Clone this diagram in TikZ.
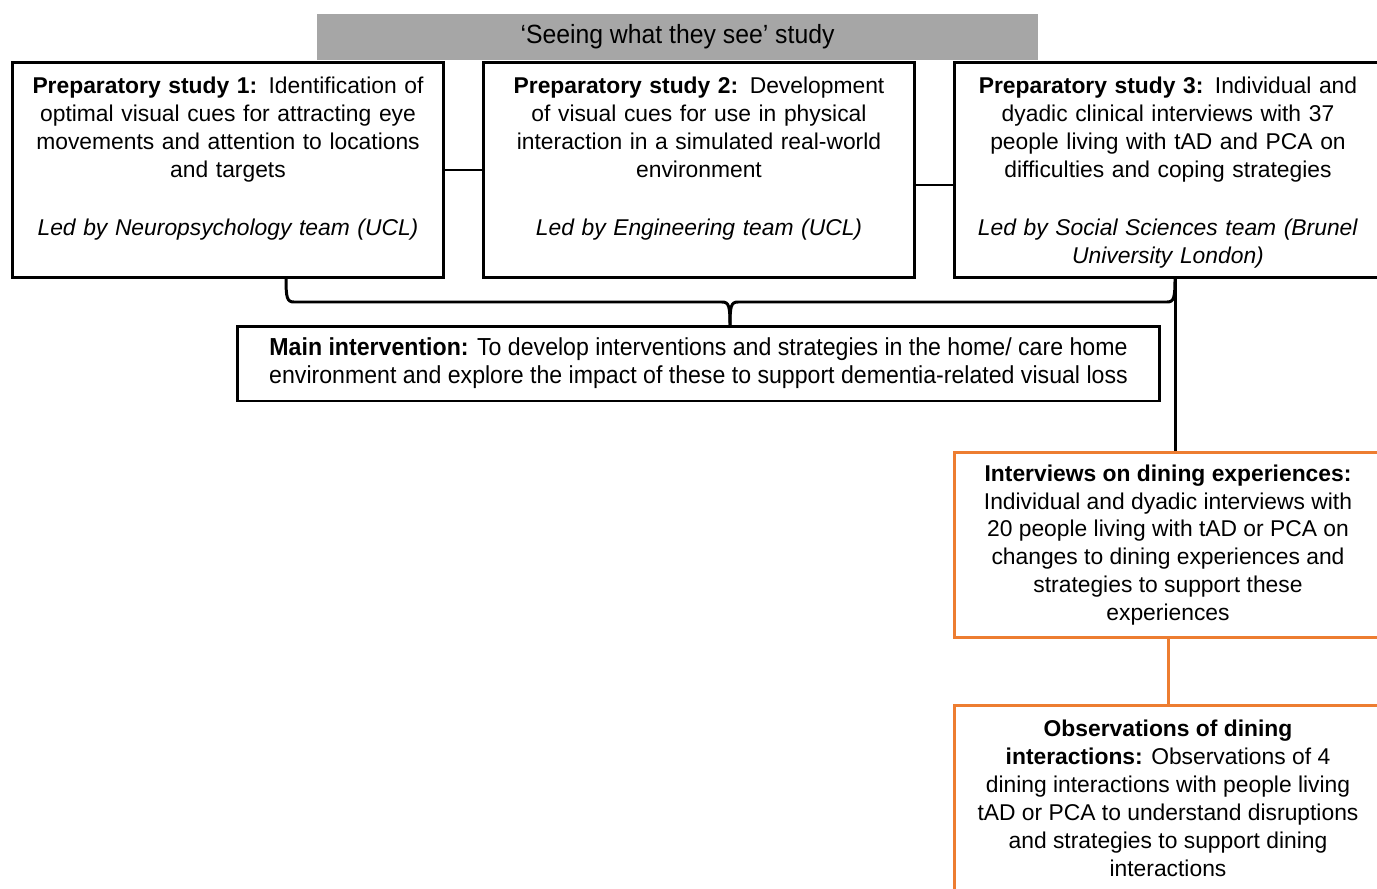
\documentclass[tikz,border=0pt]{standalone}
\usepackage{fontspec}
\setmainfont{Liberation Sans}
\newfontfamily\narrowfont[FakeStretch=0.94]{Liberation Sans}
\usetikzlibrary{positioning,calc}
\definecolor{hdrgray}{HTML}{A6A6A6}
\definecolor{dinorange}{HTML}{ED7D31}
\tikzset{
  box/.style={draw, rectangle, line width=1.7pt, inner sep=0pt, fill=white},
  obox/.style={box, draw=dinorange, align=center, font=\fontsize{13}{15.9}\selectfont},
  txt/.style={align=center, inner sep=0pt, font=\fontsize{13}{15.9}\selectfont},
  hdr/.style={fill=hdrgray, minimum width=14.42cm, minimum height=0.92cm, inner sep=0pt, font=\narrowfont\fontsize{15}{15.9}\selectfont},
  link/.style={line width=1.7pt},
  olink/.style={line width=1.7pt, draw=dinorange},
}
\begin{document}
\begin{tikzpicture}[x=0.02cm,y=-0.02cm]
\useasboundingbox (0,0) rectangle (1377,889);
\clip (0,0) rectangle (1377,889);
\newcommand{\prep}[4]{\node[box, minimum width=#3cm, minimum height=4.32cm] (#1) at #2 {}; \node[txt, text width=#3cm-0.2cm, anchor=north] (#1t) at ([yshift=-0.33cm]#1.north) {#4};}
\node[hdr] (title) at (677.5,37) {‘Seeing what they see’ study};
\prep{p1}{(228,170)}{8.64}{\textbf{Preparatory study 1:} Identification of\\optimal visual cues for attracting eye\\movements and attention to locations\\and targets\\[17pt]\textit{Led by Neuropsychology team (UCL)}}
\prep{p2}{(699,170)}{8.64}{\textbf{Preparatory study 2:} Development\\of visual cues for use in physical\\interaction in a simulated real-world\\environment\\[17pt]\textit{Led by Engineering team (UCL)}}
\prep{p3}{(1168,170)}{8.56}{\textbf{Preparatory study 3:} Individual and\\dyadic clinical interviews with 37\\people living with tAD and PCA on\\difficulties and coping strategies\\[17pt]\textit{Led by Social Sciences team (Brunel}\\\textit{University London)}}
\node[box, minimum width=18.46cm, minimum height=1.5cm, align=center, font=\narrowfont\fontsize{14}{15.9}\selectfont] (main) at (698.5,363.5) {\textbf{Main intervention:} To develop interventions and strategies in the home/ care home\\environment and explore the impact of these to support dementia-related visual loss};
\node[obox, minimum width=8.56cm, minimum height=3.72cm] (o1) at (1168,545) {\textbf{Interviews on dining experiences:}\\Individual and dyadic interviews with\\20 people living with tAD or PCA on\\changes to dining experiences and\\strategies to support these\\experiences};
\node[obox, minimum width=8.56cm, minimum height=3.74cm] (o2) at (1168,798.5) {\textbf{Observations of dining}\\\textbf{interactions:} Observations of 4\\dining interactions with people living\\tAD or PCA to understand disruptions\\and strategies to support dining\\interactions};
% links between the preparatory studies
\draw[link] (p1.east) -- (p2.west);
\draw[link] ([yshift=-0.3cm]p2.east) -- ([yshift=-0.3cm]p3.west);
% brace into the main intervention
\coordinate (brL) at (286,278);
\coordinate (brR) at (1175,278);
\coordinate (brT) at (730,326);
\draw[link] (brL) .. controls (286,298) and (287,302) .. (294,302) -- (722,302) .. controls (729,302) and (730,306) .. (brT);
\draw[link] (brT) .. controls (730,306) and (731,302) .. (738,302) -- (1167,302) .. controls (1174,302) and (1175,298) .. (brR);
\draw[link] (brR) -- (brR |- o1.north);
\draw[olink] (o1.south) -- (o2.north);
\end{tikzpicture}
\end{document}
